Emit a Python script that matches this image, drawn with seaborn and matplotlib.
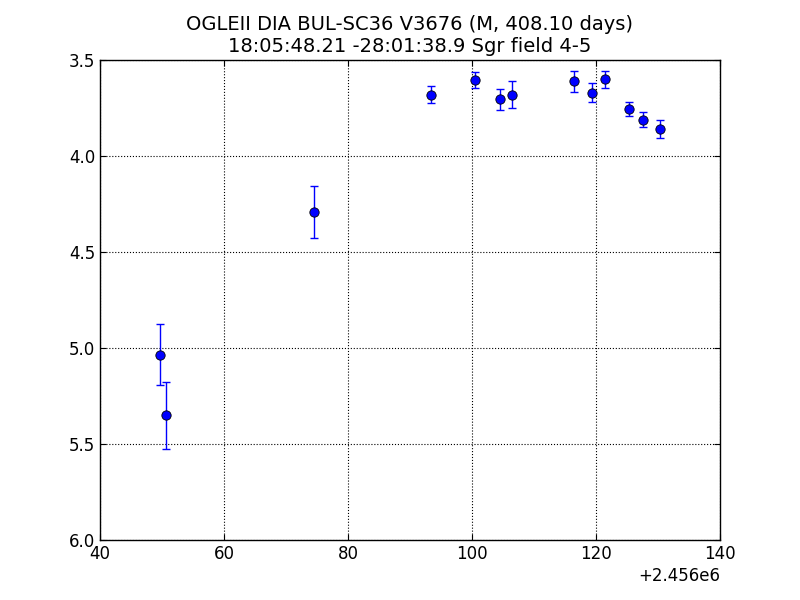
import matplotlib
matplotlib.use("Agg")
import matplotlib.pyplot as plt
import seaborn as sns
import pandas as pd

hjd = [2456049.7, 2456050.7, 2456074.5, 2456093.4, 2456100.5, 2456104.5, 2456106.5,
       2456116.5, 2456119.4, 2456121.5, 2456125.4, 2456127.5, 2456130.4]
mag = [5.035, 5.35, 4.29, 3.68, 3.605, 3.705, 3.68, 3.61, 3.67, 3.60, 3.755, 3.81, 3.86]
err = [0.16, 0.175, 0.135, 0.045, 0.04, 0.055, 0.07, 0.055, 0.05, 0.045, 0.035, 0.04, 0.045]

df = pd.DataFrame({"hjd": hjd, "mag": mag, "err": err})

sns.set_style("white")
plt.rcParams["font.family"] = ["DejaVu Sans"]
plt.rcParams["text.color"] = "black"
fig, ax = plt.subplots(figsize=(8, 6), dpi=100)
fig.subplots_adjust(left=0.125, right=0.9, top=0.9, bottom=0.1)
ax.errorbar(df.hjd, df.mag, yerr=df.err, fmt="none", ecolor="blue", elinewidth=1, capsize=3)
sns.scatterplot(data=df, x="hjd", y="mag", ax=ax, color="blue", edgecolor="black",
                linewidth=0.6, s=45, zorder=3)
ax.set_xlim(2456040, 2456140)
ax.set_ylim(6.0, 3.5)
ax.set_yticks([3.5, 4.0, 4.5, 5.0, 5.5, 6.0])
ax.grid(True, color="black", linestyle=":", linewidth=0.8)
ax.set_xlabel("")
ax.set_ylabel("")
for s in ax.spines.values():
    s.set_color("black")
    s.set_linewidth(1)
ax.tick_params(direction="in", length=4, labelsize=12, top=True, right=True, bottom=True, left=True, colors="black")
ax.set_title("OGLEII DIA BUL-SC36 V3676 (M, 408.10 days)\n18:05:48.21 -28:01:38.9 Sgr field 4-5",
             fontsize=14, color="black")
ax.xaxis.get_offset_text().set_fontsize(12)
ax.xaxis.get_offset_text().set_color("black")
fig.savefig("out.png", dpi=100)
